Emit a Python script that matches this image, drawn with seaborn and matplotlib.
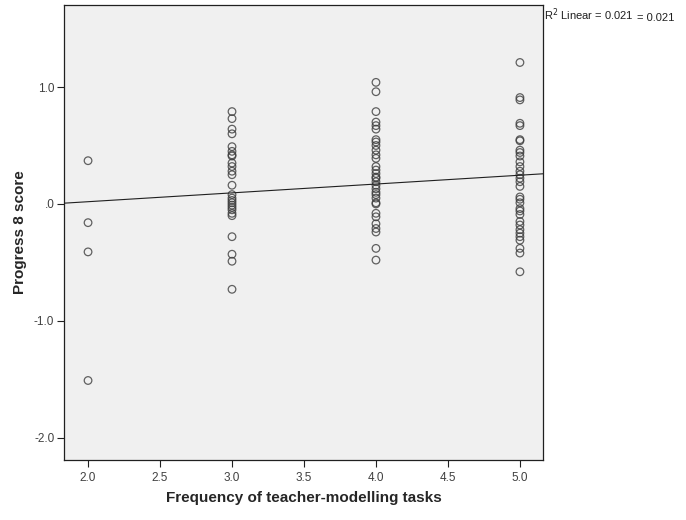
import matplotlib
matplotlib.use('Agg')
import numpy as np
import pandas as pd
import matplotlib.pyplot as plt
import seaborn as sns

# Значения
freq_2 = [0.37, -0.16, -0.41, -1.51]
freq_3 = [0.79, 0.73, 0.64, 0.60, 0.49, 0.45, 0.42, 0.41, 0.35, 0.32, 0.28, 0.25,
          0.16, 0.08, 0.05, 0.03, 0.01, -0.01, -0.03, -0.05, -0.08, -0.10,
          -0.28, -0.43, -0.49, -0.73]
freq_4 = [1.04, 0.96, 0.79, 0.70, 0.67, 0.64, 0.55, 0.53, 0.50, 0.46, 0.42, 0.39,
          0.32, 0.29, 0.26, 0.23, 0.22, 0.19, 0.16, 0.13, 0.10, 0.08, 0.05, 0.01,
          0.00, -0.08, -0.11, -0.17, -0.21, -0.24, -0.38, -0.48]
freq_5 = [1.21, 0.91, 0.89, 0.69, 0.67, 0.55, 0.54, 0.46, 0.44, 0.41, 0.36, 0.32,
          0.28, 0.25, 0.22, 0.19, 0.15, 0.06, 0.04, 0.01, -0.04, -0.06, -0.09,
          -0.15, -0.18, -0.22, -0.25, -0.28, -0.31, -0.38, -0.42, -0.58]

x_ticks = [2.0, 2.5, 3.0, 3.5, 4.0, 4.5, 5.0]
y_ticks = [-2.0, -1.0, 0.0, 1.0]
y_tick_labels = ['-2.0', '-1.0', '.0', '1.0']
r2_text = '0.021'

df = pd.DataFrame({
    'freq': [2] * len(freq_2) + [3] * len(freq_3) + [4] * len(freq_4) + [5] * len(freq_5),
    'p8': freq_2 + freq_3 + freq_4 + freq_5,
})

sns.set_style('white')
plt.rcParams['font.family'] = ['Liberation Sans', 'DejaVu Sans']

fig = plt.figure(figsize=(6.86, 5.2), dpi=100)
ax = fig.add_axes([0.0933, 0.1154, 0.6982, 0.8746])
ax.set_facecolor('#F0F0F0')

xlim = (1.833, 5.16)
ylim = (-2.19, 1.70)
ax.set_xlim(xlim)
ax.set_ylim(ylim)

# Линия регрессии тянется на всю ось (truncate=False)
sns.regplot(data=df, x='freq', y='p8', ci=None, truncate=False, ax=ax,
            scatter_kws={'s': 30, 'facecolors': 'none', 'edgecolors': '#3c3c3c',
                         'linewidths': 0.9},
            line_kws={'color': '#202020', 'linewidth': 0.8})
ax.set_xlim(xlim)
ax.set_ylim(ylim)

ax.set_xticks(x_ticks)
ax.set_xticklabels([f'{t:.1f}' for t in x_ticks])
ax.set_yticks(y_ticks)
ax.set_yticklabels(y_tick_labels)
ax.tick_params(axis='both', direction='out', length=5, width=0.8, color='#202020',
               labelsize=8.5, labelcolor='#404040', bottom=True, left=True)
ax.tick_params(axis='x', pad=4)
ax.tick_params(axis='y', pad=2)

for s in ax.spines.values():
    s.set_color('#202020')
    s.set_linewidth(0.9)

ax.set_xlabel('Frequency of teacher-modelling tasks', fontsize=11, fontweight='bold',
              labelpad=5)
ax.set_ylabel('Progress 8 score', fontsize=11, fontweight='bold', labelpad=5)

fig.text(0.793, 0.962, f'R$^2$ Linear = {r2_text}', fontsize=8, color='#202020',
         ha='left', va='baseline')
fig.text(0.929, 0.959, f'= {r2_text}', fontsize=8, color='#202020',
         ha='left', va='baseline')

fig.savefig('out.png', dpi=100)
